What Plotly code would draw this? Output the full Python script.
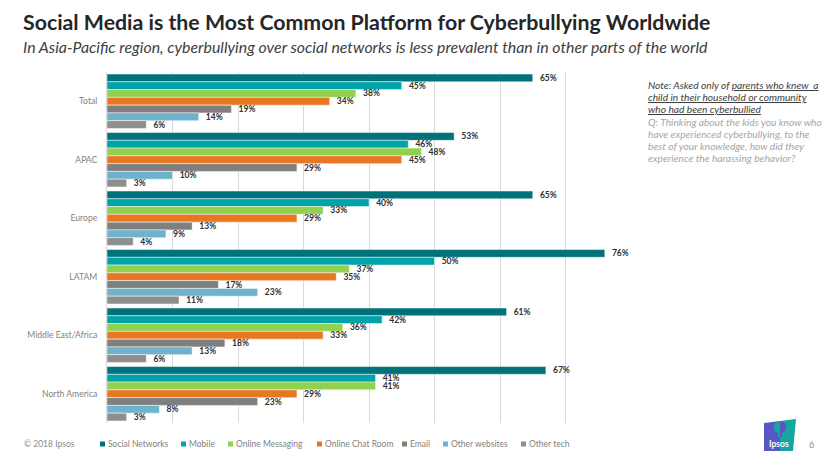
import plotly.graph_objects as go

regions = ["Total", "APAC", "Europe", "LATAM", "Middle East/Africa", "North America"]
series_names = ["Social Networks", "Mobile", "Online Messaging", "Online Chat Room",
                "Email", "Other websites", "Other tech"]
social_networks = [65, 53, 65, 76, 61, 67]
mobile = [45, 46, 40, 50, 42, 41]
online_messaging = [38, 48, 33, 37, 36, 41]
online_chat_room = [34, 45, 29, 35, 33, 29]
email = [19, 29, 13, 17, 18, 23]
other_websites = [14, 10, 9, 23, 13, 8]
other_tech = [6, 3, 4, 11, 6, 3]
x_ticks = [0, 10, 20, 30, 40, 50, 60, 70, 80]

series_values = [social_networks, mobile, online_messaging, online_chat_room,
                 email, other_websites, other_tech]
colors = ["#00727A", "#00A3A8", "#92D050", "#E87722", "#7F7F7F", "#6FB2CB", "#8E8E8E"]

W, H = 830, 468
L, R, T, B = 107, 199, 72, 45
PW, PH = W - L - R, H - T - B

def px(x):
    return (x - L) / PW

def py(y):
    return (H - B - y) / PH

FONT = "Lato"

fig = go.Figure()
for name, vals, col in zip(series_names, series_values, colors):
    fig.add_trace(go.Bar(
        y=regions, x=vals, name=name, orientation="h",
        marker=dict(color=col, line=dict(color="rgba(255,255,255,0.8)", width=0.6)),
        text=[f"  {v}%" for v in vals], textposition="outside",
        textfont=dict(family=FONT, size=8.5, color="#303030", weight="bold"),
        constraintext="none", cliponaxis=False, showlegend=False,
    ))

fig.update_layout(
    width=W, height=H, margin=dict(l=L, r=R, t=T, b=B),
    paper_bgcolor="white", plot_bgcolor="white",
    barmode="group", bargap=0.07, bargroupgap=0,
    font=dict(family=FONT),
    xaxis=dict(range=[0, 80], tickvals=x_ticks, showticklabels=False,
               showgrid=True, gridcolor="#D9D9D9", gridwidth=1, zeroline=False,
               showline=False),
    yaxis=dict(autorange="reversed", showgrid=False, showline=True,
               linecolor="#D9D9D9", linewidth=1, ticks="",
               tickfont=dict(family=FONT, size=8.6, color="#7F7F7F"),
               ticklabelstandoff=7),
)

ann = []
shapes = []
ann.append(dict(text="<b>Social Media is the Most Common Platform for Cyberbullying Worldwide</b>",
                x=px(21), y=py(22), xref="paper", yref="paper", xanchor="left", yanchor="middle",
                showarrow=False, font=dict(family=FONT, size=21.3, color="#262626")))
ann.append(dict(text="<i>In Asia-Pacific region, cyberbullying over social networks is less prevalent than in other parts of the world</i>",
                x=px(21), y=py(47), xref="paper", yref="paper", xanchor="left", yanchor="middle",
                showarrow=False, font=dict(family=FONT, size=15.9, color="#404040")))

note_lines = ["Note: Asked only of <u>parents who knew  a</u>",
              "<u>child in their household or community</u>",
              "<u>who had been cyberbullied</u>"]
for i, t in enumerate(note_lines):
    ann.append(dict(text=f"<i>{t}</i>", x=px(646), y=py(85 + 12 * i), xref="paper", yref="paper",
                    xanchor="left", yanchor="middle", showarrow=False,
                    font=dict(family=FONT, size=10.2, color="#404040")))
q_lines = ["Q: Thinking about the kids you know who",
           "have experienced cyberbullying, to the",
           "best of your knowledge, how did they",
           "experience the harassing behavior?"]
for i, t in enumerate(q_lines):
    ann.append(dict(text=f"<i>{t}</i>", x=px(646), y=py(122 + 12 * i), xref="paper", yref="paper",
                    xanchor="left", yanchor="middle", showarrow=False,
                    font=dict(family=FONT, size=10.2, color="#A6A6A6")))

# footer
ann.append(dict(text="© 2018 Ipsos", x=px(22), y=py(444), xref="paper", yref="paper",
                xanchor="left", yanchor="middle", showarrow=False,
                font=dict(family=FONT, size=8.5, color="#8C8C8C")))
legend_x = [100, 181, 228, 317, 402, 443, 521]
for lx, name, col in zip(legend_x, series_names, colors):
    shapes.append(dict(type="rect", xref="paper", yref="paper",
                       x0=px(lx), x1=px(lx + 5), y0=py(446.5), y1=py(441.5),
                       fillcolor=col, line=dict(width=0)))
    ann.append(dict(text=name, x=px(lx + 6), y=py(444), xref="paper", yref="paper",
                    xanchor="left", yanchor="middle", showarrow=False,
                    font=dict(family=FONT, size=8.5, color="#7F7F7F")))

# logo
BLUE, TEAL = "#5858C4", "#14A7A2"
shapes.append(dict(type="path", xref="paper", yref="paper",
                   path=f"M {px(764)} {py(423)} L {px(780)} {py(421)} L {px(780)} {py(451)} L {px(764)} {py(451)} Z",
                   fillcolor=BLUE, line=dict(width=0)))
shapes.append(dict(type="path", xref="paper", yref="paper",
                   path=f"M {px(780)} {py(421)} L {px(796)} {py(419)} L {px(793)} {py(451)} L {px(780)} {py(451)} Z",
                   fillcolor=TEAL, line=dict(width=0)))
# head silhouette: left half teal on blue, right half blue on teal
shapes.append(dict(type="path", xref="paper", yref="paper",
                   path=(f"M {px(780)} {py(421)} Q {px(774)} {py(421)} {px(774)} {py(427)} "
                         f"Q {px(774)} {py(432)} {px(778)} {py(433)} L {px(778)} {py(437)} "
                         f"L {px(780)} {py(437)} Z"),
                   fillcolor=TEAL, line=dict(width=0)))
shapes.append(dict(type="path", xref="paper", yref="paper",
                   path=(f"M {px(780)} {py(421)} Q {px(786)} {py(421)} {px(786)} {py(427)} "
                         f"Q {px(786)} {py(432)} {px(782)} {py(433)} L {px(782)} {py(437)} "
                         f"L {px(780)} {py(437)} Z"),
                   fillcolor=BLUE, line=dict(width=0)))
ann.append(dict(text="<b>Ipsos</b>", x=px(779), y=py(444), xref="paper", yref="paper",
                xanchor="center", yanchor="middle", showarrow=False,
                font=dict(family=FONT, size=8.5, color="white")))
ann.append(dict(text="6", x=px(811), y=py(444), xref="paper", yref="paper",
                xanchor="center", yanchor="middle", showarrow=False,
                font=dict(family=FONT, size=9, color="#8C8C8C")))

fig.update_layout(annotations=ann, shapes=shapes)
fig.write_html("out.html")
